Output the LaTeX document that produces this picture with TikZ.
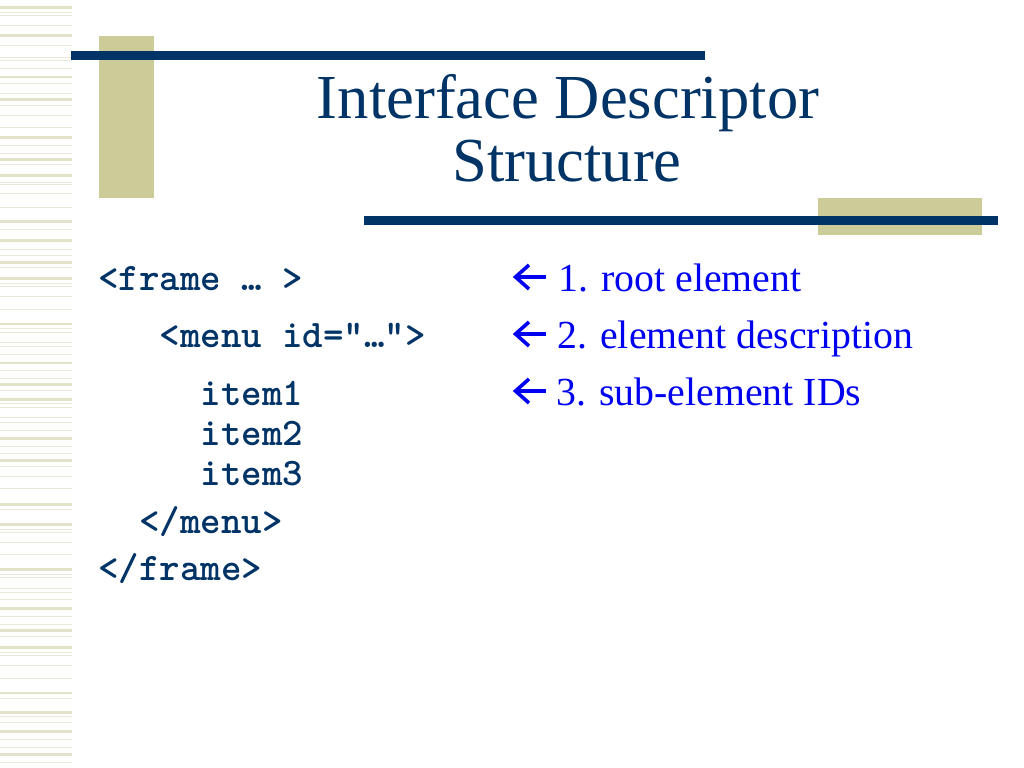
\documentclass[tikz,border=0pt]{standalone}
\usepackage{fontspec}
\setmainfont{Liberation Serif}
\definecolor{navy}{HTML}{003366}
\definecolor{khaki}{HTML}{CCCC99}
\definecolor{stripeA}{HTML}{E3E3C9}
\definecolor{stripeB}{HTML}{E9E9D9}
\definecolor{labelblue}{HTML}{0000F0}
\tikzset{
  titletext/.style={inner sep=0pt, anchor=base, text=navy, font=\fontsize{62.6bp}{70bp}\selectfont},
  codetext/.style={inner sep=0pt, anchor=base west, text=navy, font=\ttfamily\bfseries\fontsize{39bp}{44bp}\selectfont},
  labeltext/.style={inner sep=0pt, anchor=base west, text=labelblue, font=\fontsize{39.8bp}{46bp}\selectfont},
  arrowstroke/.style={draw=labelblue, line width=3.6bp, line join=miter, line cap=butt},
}
\begin{document}
\begin{tikzpicture}[x=1bp,y=-1bp]
\useasboundingbox (0,0) rectangle (1024,768);
\fill[white] (0,0) rectangle (1024,768);
% left stripe texture
\foreach \s/\h in {6/3,34/3,76/2.5,98/3,136/2.5,158/2.5,174/3,220/3,239/2.5,261/2.5,277/2.5,323/2,362/2,383/3,398/2.5,437/2.5,459/3,503/2.5,523/2.5,568/2.5,607/2.5,629/3,646/2.5,692/2,711/2.5,730/2.5,753/2.5}
  \fill[stripeA] (0,\s) rectangle (72,\s+\h);
\foreach \s in {12,15,25,45,57,60,68,83,93,105,115,127,145,153,164,182,184,193,207,229,249,255,267,283,286,296,309,328,332,342,346,354,370,378,390,403,407,417,422,430,446,453,466,476,488,509,529,532,542,554,574,577,588,592,599,616,624,636,652,655,665,678,698,716,722,739,747,762}
  \fill[stripeB] (0,\s) rectangle (72,\s+1.3);
% decorative bars
\fill[khaki] (99,36) rectangle (154,198);
\fill[navy] (71,51) rectangle (705,60);
\fill[khaki] (818,198) rectangle (982,235);
\fill[navy] (364,215.5) rectangle (998,224.5);
% title
\node[titletext] (title1) at (568,118.5) {Interface Descriptor};
\node[titletext] (title2) at (567,181.5) {Structure};
% code
\node[codetext] (frameopen) at (98,290) {<frame … >};
\node[codetext] (menuopen) at (159.4,347) {<menu id="…">};
\node[codetext] (item1) at (200.4,405) {item1};
\node[codetext] (item2) at (200.4,445.5) {item2};
\node[codetext] (item3) at (200.4,485.5) {item3};
\node[codetext] (menuclose) at (139,533) {</menu>};
\node[codetext] (frameclose) at (98,580) {</frame>};
% labels with arrows
\foreach \c/\yy in {1/277,2/334,3/391}{
  \draw[arrowstroke] (545.5,\yy) -- (516,\yy);
  \draw[arrowstroke] (529,\yy-12) -- (515.5,\yy) -- (529,\yy+12);
}
\node[labeltext] (lab1) at (558,291) {1. root element};
\node[labeltext] (lab2) at (557,348) {2. element description};
\node[labeltext] (lab3) at (556,405) {3. sub-element IDs};
\end{tikzpicture}
\end{document}
